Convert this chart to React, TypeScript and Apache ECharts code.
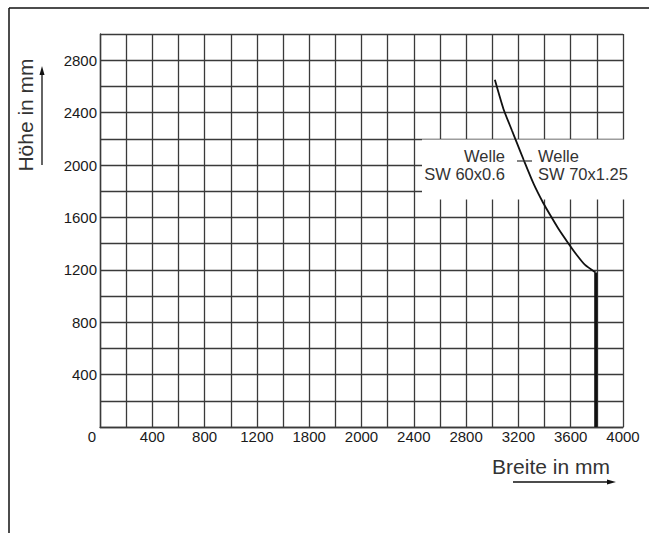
import React, { useEffect, useRef } from "react";
import * as echarts from "echarts";

// X axis: 0..4000 mm, grid every 200, labels every 400 (original prints "1800" at 1600)
const xTickLabels = ["0", "400", "800", "1200", "1800", "2000", "2400", "2800", "3200", "3600", "4000"];
// Y axis labels every 400 (no 0 label)
const yTickValues = [400, 800, 1200, 1600, 2000, 2400, 2800];

// Curve (Breite, Höhe) in mm
const curveX = [3020, 3085, 3150, 3190, 3240, 3315, 3390, 3445, 3505, 3580, 3645, 3710, 3790];
const curveY = [2650, 2430, 2265, 2165, 2040, 1860, 1710, 1615, 1515, 1405, 1315, 1237, 1180];

// Vertical limit line
const limitX = [3792, 3792];
const limitY = [1180, 0];

const FONT = "'Liberation Sans', Arial, Helvetica, sans-serif";

export default function App() {
  const ref = useRef<HTMLDivElement>(null);
  useEffect(() => {
    document.body.style.margin = "0";
    if (!ref.current) return;
    const chart = echarts.init(ref.current, undefined, { renderer: "svg" });
    const gridColor = "#3a3a3a";
    const option = {
      animation: false,
      backgroundColor: "#ffffff",
      grid: { left: 100, right: 26, top: 34, bottom: 106, containLabel: false },
      xAxis: {
        type: "value",
        min: 0,
        max: 4000,
        interval: 200,
        axisLine: { show: true, lineStyle: { color: gridColor, width: 1.4 } },
        axisTick: { show: false },
        splitLine: { show: true, lineStyle: { color: gridColor, width: 1.3 } },
        axisLabel: {
          margin: 2,
          color: "#1a1a1a",
          fontSize: 15,
          fontFamily: FONT,
          showMaxLabel: true,
          showMinLabel: true,
          formatter: (v: number) => {
            if (v % 400 !== 0) return "";
            const s = xTickLabels[v / 400];
            if (v === 0) return "{z|" + s + "}";
            return s;
          },
          rich: {
            z: { fontSize: 15, color: "#1a1a1a", fontFamily: FONT, padding: [0, 16, 0, 0] },
          },
        },
      },
      yAxis: {
        type: "value",
        min: 0,
        max: 3000,
        interval: 200,
        axisLine: { show: true, lineStyle: { color: gridColor, width: 1.4 } },
        axisTick: { show: false },
        splitLine: { show: true, lineStyle: { color: gridColor, width: 1.3 } },
        axisLabel: {
          margin: 3,
          color: "#1a1a1a",
          fontSize: 15,
          fontFamily: FONT,
          formatter: (v: number) => (yTickValues.indexOf(v) >= 0 ? String(v) : ""),
        },
      },
      series: [
        {
          type: "line",
          data: curveX.map((x, i) => [x, curveY[i]]),
          smooth: 0.2,
          symbol: "none",
          lineStyle: { color: "#111", width: 1.8 },
          z: 3,
        },
        {
          type: "line",
          data: limitX.map((x, i) => [x, limitY[i]]),
          symbol: "none",
          lineStyle: { color: "#111", width: 3.2 },
          z: 3,
        },
      ],
      graphic: [
        // outer frame
        { type: "line", z: 10, shape: { x1: 9, y1: 8, x2: 649, y2: 8 }, style: { stroke: "#111", lineWidth: 1.5 } },
        { type: "line", z: 10, shape: { x1: 9, y1: 8, x2: 9, y2: 533 }, style: { stroke: "#111", lineWidth: 1.5 } },
        // white patch behind annotations
        { type: "rect", z: 1, shape: { x: 422, y: 139.5, width: 210, height: 60 }, style: { fill: "#ffffff" } },
        { type: "line", z: 4, shape: { x1: 517, y1: 161, x2: 532, y2: 161 }, style: { stroke: "#333", lineWidth: 1.2 } },
        // annotations
        { type: "text", z: 5, x: 505, y: 156, style: { text: "Welle", fill: "#333", font: "16.5px " + FONT, textAlign: "right", textVerticalAlign: "middle" } },
        { type: "text", z: 5, x: 505, y: 174, style: { text: "SW 60x0.6", fill: "#333", font: "16.5px " + FONT, textAlign: "right", textVerticalAlign: "middle" } },
        { type: "text", z: 5, x: 538, y: 156, style: { text: "Welle", fill: "#333", font: "16.5px " + FONT, textAlign: "left", textVerticalAlign: "middle" } },
        { type: "text", z: 5, x: 538, y: 174, style: { text: "SW 70x1.25", fill: "#333", font: "16.5px " + FONT, textAlign: "left", textVerticalAlign: "middle" } },
        // axis titles
        { type: "text", z: 5, x: 25, y: 115, rotation: Math.PI / 2, style: { text: "Höhe in mm", fill: "#333", font: "21px " + FONT, textAlign: "center", textVerticalAlign: "middle" } },
        { type: "text", z: 5, x: 551, y: 466, style: { text: "Breite in mm", fill: "#333", font: "21px " + FONT, textAlign: "center", textVerticalAlign: "middle" } },
        // arrows
        { type: "line", z: 5, shape: { x1: 42, y1: 165, x2: 42, y2: 72 }, style: { stroke: "#111", lineWidth: 1.3 } },
        { type: "polygon", z: 5, shape: { points: [[42, 66], [39.5, 75], [44.5, 75]] }, style: { fill: "#111" } },
        { type: "line", z: 5, shape: { x1: 513, y1: 482, x2: 610, y2: 482 }, style: { stroke: "#111", lineWidth: 1.3 } },
        { type: "polygon", z: 5, shape: { points: [[616, 482], [607, 479.5], [607, 484.5]] }, style: { fill: "#111" } },
      ],
    };
    chart.setOption(option as any);
    return () => chart.dispose();
  }, []);
  return <div ref={ref} style={{ width: 649, height: 533 }} />;
}
